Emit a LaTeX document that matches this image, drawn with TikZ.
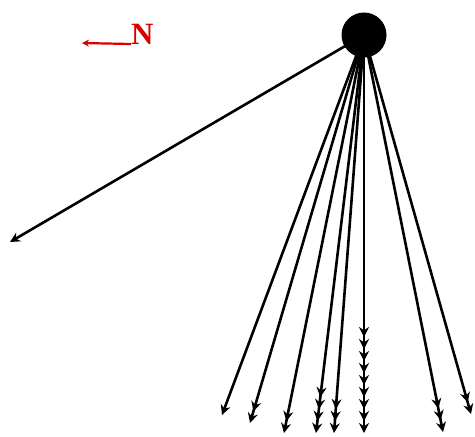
\documentclass[tikz,border=0pt]{standalone}
\usepackage{fontspec}
\setmainfont{Liberation Serif}
\usetikzlibrary{arrows.meta,decorations.markings}
\tikzset{
  ray/.style={line width=2.6pt,-{Stealth[length=10pt,width=10pt]}},
  heads/.style={postaction={decorate,decoration={markings,
    mark=between positions -#1 and -6pt step 12pt with {\arrow{Stealth[length=10pt,width=10pt]}}}}},
  north/.style={red!85!black,line width=2.2pt,-{Stealth[length=7pt,width=7pt]}},
}
\begin{document}
\begin{tikzpicture}[x=1pt,y=-1pt]
	\useasboundingbox (0,0) rectangle (475,437);
	\coordinate (ball) at (364,35);
	% ends of the rays
	\foreach \name/\tx/\ty in {l/10/242, a/222/415, b/250/423, c/284/433, d/316/433,
		e/334/433, f/364/433, g/443/432, h/471/414}
		\coordinate (\name) at (\tx,\ty);
	\foreach \tip in {l,a}
		\draw[ray] (ball) -- (\tip);
	\foreach \tip/\n in {b/12pt, c/12pt, d/36pt, e/24pt, f/96pt, g/24pt, h/12pt}
		\draw[ray,heads=\n] (ball) -- (\tip);
	\node[circle,fill,minimum size=45pt,inner sep=0pt] (sun) at (ball) {};
	% north
	\node[anchor=base west,inner sep=0pt,text=red!85!black,font=\bfseries\fontsize{31}{31}\selectfont] (N) at (131,44) {N};
	\coordinate (w) at (82,43);
	\draw[north] (N.base west) -- (w);
\end{tikzpicture}
\end{document}
